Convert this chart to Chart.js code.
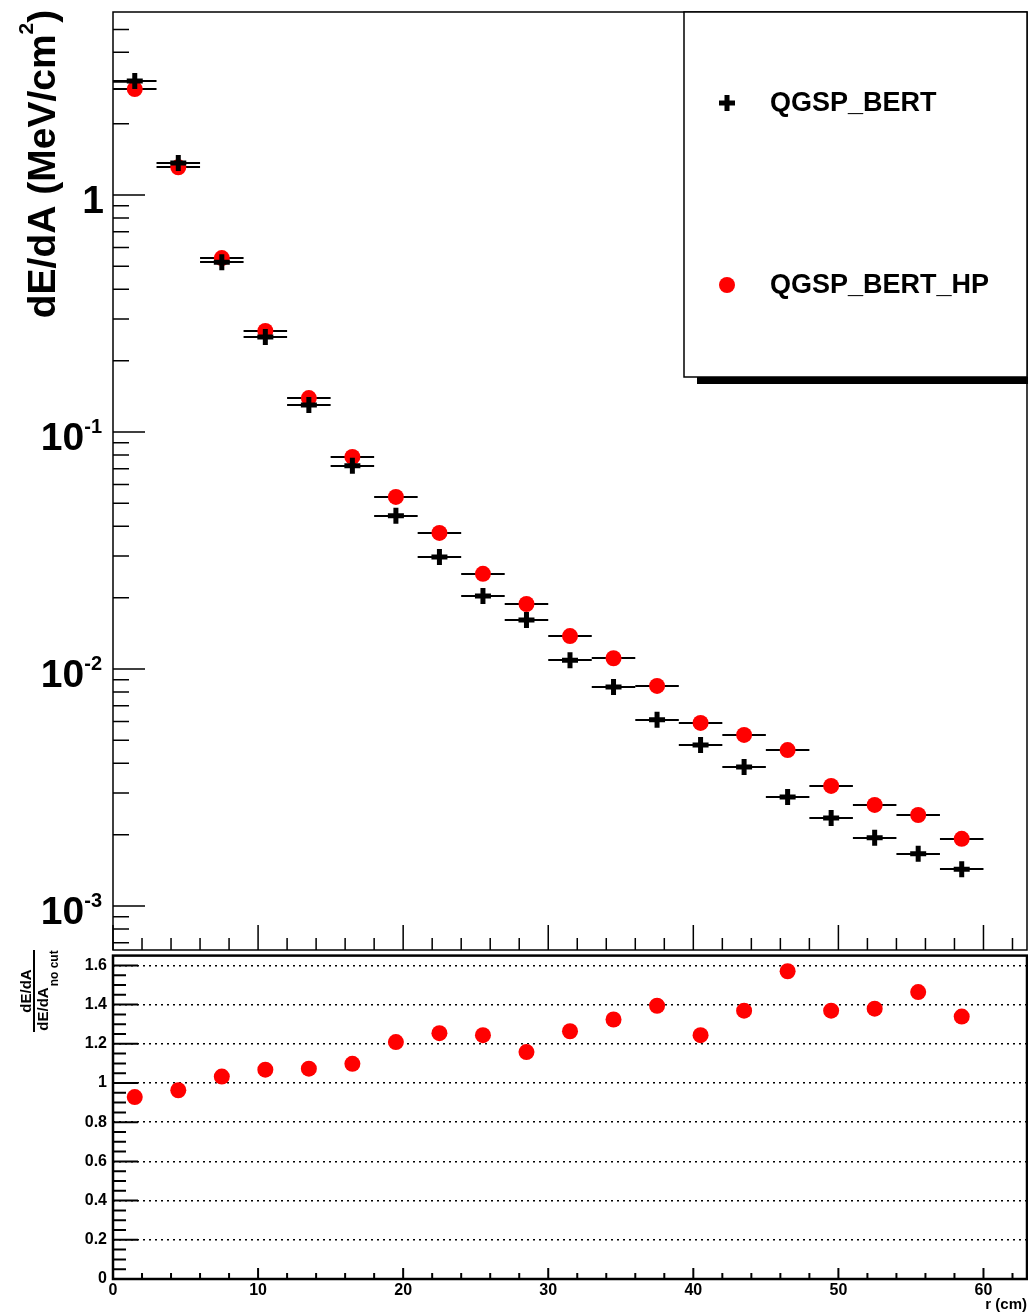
<!DOCTYPE html>
<html>
<head>
<meta charset="utf-8">
<script src="https://cdn.jsdelivr.net/npm/chart.js@4.4.0/dist/chart.umd.min.js"></script>
<style>
  html, body { margin: 0; padding: 0; background: #fff; overflow: hidden; }
  #wrap { position: relative; width: 1028px; height: 1314px; }
  #wrap canvas { position: absolute; left: 0; }
  #top { top: 0; }
  #ratio { top: 940px; }
</style>
</head>
<body>
<div id="wrap">
  <canvas id="top" width="1028" height="960"></canvas>
  <canvas id="ratio" width="1028" height="374"></canvas>
</div>
<script>
// bin centres in r (cm), bins are 3 cm wide
const rCentres = [1.5, 4.5, 7.5, 10.5, 13.5, 16.5, 19.5, 22.5, 25.5, 28.5,
                  31.5, 34.5, 37.5, 40.5, 43.5, 46.5, 49.5, 52.5, 55.5, 58.5]
const rHalfWidth = 1.5

// dE/dA (MeV/cm2)
const qgspBert = [3.03, 1.365, 0.521, 0.252, 0.130, 0.072, 0.0443, 0.0297, 0.0203, 0.0161,
                  0.0109, 0.0084, 0.0061, 0.00478, 0.00386, 0.00288, 0.00235, 0.00194, 0.00166, 0.00143]
const qgspBertHP = [2.80, 1.31, 0.542, 0.267, 0.139, 0.0785, 0.0532, 0.0375, 0.0252, 0.0188,
                    0.01377, 0.0111, 0.00848, 0.00592, 0.00527, 0.00455, 0.00321, 0.00267, 0.00242, 0.00192]

// lower panel ratio
const ratioHP = [0.928, 0.963, 1.033, 1.068, 1.073, 1.098, 1.209, 1.254, 1.244, 1.158,
                 1.264, 1.324, 1.394, 1.244, 1.369, 1.570, 1.369, 1.379, 1.464, 1.339]

const decadeTicks = [1, 1e-1, 1e-2, 1e-3]
const ratioTicks = [0, 0.2, 0.4, 0.6, 0.8, 1, 1.2, 1.4, 1.6]
const rTicks = [0, 10, 20, 30, 40, 50, 60]

const FONT = '"Liberation Sans", Arial, Helvetica, sans-serif'
Chart.defaults.font.family = FONT
Chart.defaults.color = '#000'

const toPoints = (xs, ys) => xs.map((x, i) => ({ x: x, y: ys[i] }))

// minor tick helpers
const linMinors = (lo, hi, step, majorStep) => {
  const out = []
  for (let i = 0; lo + i * step <= hi + 1e-9; i++) {
    const v = lo + i * step
    const q = v / majorStep
    if (Math.abs(q - Math.round(q)) > 1e-6) out.push(v)
  }
  return out
}
const logMinors = (lo, hi) => {
  const out = []
  for (let e = -5; e <= 1; e++) {
    for (let k = 2; k <= 9; k++) {
      const v = k * Math.pow(10, e)
      if (v > lo && v < hi) out.push(v)
    }
  }
  return out
}

function drawTicks(ctx, scale, values, len, side, area) {
  ctx.beginPath()
  values.forEach(v => {
    const p = scale.getPixelForValue(v)
    if (side === 'left') {
      ctx.moveTo(area.left, p)
      ctx.lineTo(area.left + len, p)
    } else {
      ctx.moveTo(p, area.bottom)
      ctx.lineTo(p, area.bottom - len)
    }
  })
  ctx.stroke()
}

const errorBars = {
  id: 'errorBars',
  beforeDatasetsDraw(chart) {
    const { ctx, chartArea: a, scales: { x, y } } = chart
    ctx.save()
    ctx.beginPath()
    ctx.rect(a.left, a.top, a.width, a.height)
    ctx.clip()
    ctx.strokeStyle = '#000'
    ctx.lineWidth = 2
    chart.data.datasets.forEach(ds => {
      if (!ds.xHalfWidth) return
      ds.data.forEach(p => {
        const py = Math.round(y.getPixelForValue(p.y))
        ctx.beginPath()
        ctx.moveTo(x.getPixelForValue(p.x - ds.xHalfWidth), py)
        ctx.lineTo(x.getPixelForValue(p.x + ds.xHalfWidth), py)
        ctx.stroke()
      })
    })
    ctx.restore()
  }
}

const topDecor = {
  id: 'topDecor',
  afterDraw(chart) {
    const { ctx, chartArea: a, scales: { x, y } } = chart
    ctx.save()
    ctx.strokeStyle = '#000'
    ctx.fillStyle = '#000'

    // frame
    ctx.lineWidth = 1.5
    ctx.strokeRect(a.left, a.top, a.right - a.left, a.bottom - a.top)

    // ticks inside
    ctx.lineWidth = 1.5
    drawTicks(ctx, y, decadeTicks, 32, 'left', a)
    drawTicks(ctx, y, logMinors(y.min, y.max), 16, 'left', a)
    drawTicks(ctx, x, rTicks, 25, 'bottom', a)
    drawTicks(ctx, x, linMinors(0, x.max, 2, 10), 12, 'bottom', a)

    // decade labels 1, 10^-1 ...
    ctx.textBaseline = 'alphabetic'
    ctx.textAlign = 'right'
    decadeTicks.forEach(v => {
      const py = y.getPixelForValue(v)
      const e = Math.round(Math.log10(v))
      if (e === 0) {
        ctx.font = 'bold 39px ' + FONT
        ctx.fillText('1', a.left - 9, py + 18)
      } else {
        const sup = String(e)
        ctx.font = 'bold 20px ' + FONT
        const w = ctx.measureText(sup).width
        ctx.fillText(sup, a.left - 11, py + 1)
        ctx.font = 'bold 39px ' + FONT
        ctx.fillText('10', a.left - 11 - w, py + 18)
      }
    })

    // y title
    const p1 = 'dE/dA (MeV/cm', p2 = '2', p3 = ')'
    ctx.font = 'bold 39px ' + FONT
    const w1 = ctx.measureText(p1).width, w3 = ctx.measureText(p3).width
    ctx.font = 'bold 21px ' + FONT
    const w2 = ctx.measureText(p2).width
    const L = w1 + w2 + w3
    ctx.translate(55, 164 + L / 2)
    ctx.rotate(-Math.PI / 2)
    ctx.textAlign = 'left'
    ctx.font = 'bold 39px ' + FONT
    ctx.fillText(p1, 0, 0)
    ctx.fillText(p3, w1 + w2, 0)
    ctx.font = 'bold 21px ' + FONT
    ctx.fillText(p2, w1, -22)
    ctx.restore()

    // legend
    ctx.save()
    ctx.fillStyle = '#000'
    ctx.fillRect(697, 377, 331, 7)
    ctx.fillStyle = '#fff'
    ctx.fillRect(684, 12, 343, 365)
    ctx.strokeStyle = '#000'
    ctx.lineWidth = 1.5
    ctx.strokeRect(684, 12, 343, 365)
    const rows = [103, 285]
    chart.data.datasets.forEach((ds, i) => {
      ctx.fillStyle = ds.backgroundColor
      ctx.strokeStyle = ds.borderColor
      ctx.lineWidth = ds.borderWidth
      Chart.helpers.drawPoint(ctx, {
        pointStyle: ds.pointStyle, radius: ds.pointRadius,
        borderWidth: ds.borderWidth, rotation: 0
      }, 727, rows[i])
      ctx.fillStyle = '#000'
      ctx.font = 'bold 27px ' + FONT
      ctx.textAlign = 'left'
      ctx.textBaseline = 'middle'
      ctx.fillText(ds.label, 770, rows[i] + 1)
    })
    ctx.restore()
  }
}

const ratioDecor = {
  id: 'ratioDecor',
  afterDraw(chart) {
    const { ctx, chartArea: a, scales: { x, y } } = chart
    ctx.save()
    ctx.strokeStyle = '#000'
    ctx.fillStyle = '#000'
    ctx.lineWidth = 2.5
    ctx.strokeRect(a.left, a.top, a.right - a.left, a.bottom - a.top)

    ctx.lineWidth = 2
    drawTicks(ctx, y, ratioTicks, 25, 'left', a)
    drawTicks(ctx, y, linMinors(0, 1.64, 0.05, 0.2), 13, 'left', a)
    drawTicks(ctx, x, rTicks, 11, 'bottom', a)
    drawTicks(ctx, x, linMinors(0, x.max, 2, 10), 6, 'bottom', a)

    // fraction title  dE/dA / dE/dA_no cut
    const cy = 991 - 940
    ctx.lineWidth = 2
    ctx.beginPath()
    ctx.moveTo(34, cy - 41)
    ctx.lineTo(34, cy + 41)
    ctx.stroke()

    ctx.font = 'bold 15px ' + FONT
    const wn = ctx.measureText('dE/dA').width
    ctx.font = 'bold 12px ' + FONT
    const ws = ctx.measureText('no cut').width

    ctx.save()
    ctx.translate(31, cy + wn / 2)
    ctx.rotate(-Math.PI / 2)
    ctx.textAlign = 'left'
    ctx.textBaseline = 'alphabetic'
    ctx.font = 'bold 15px ' + FONT
    ctx.fillText('dE/dA', 0, 0)
    ctx.restore()

    ctx.save()
    ctx.translate(48, cy + (wn + ws) / 2)
    ctx.rotate(-Math.PI / 2)
    ctx.textAlign = 'left'
    ctx.font = 'bold 15px ' + FONT
    ctx.fillText('dE/dA', 0, 0)
    ctx.font = 'bold 12px ' + FONT
    ctx.fillText('no cut', wn + 1, 10)
    ctx.restore()

    ctx.restore()
  }
}

new Chart(document.getElementById('top'), {
  type: 'scatter',
  data: {
    datasets: [{
      label: 'QGSP_BERT',
      data: toPoints(rCentres, qgspBert),
      xHalfWidth: rHalfWidth,
      pointStyle: 'cross',
      pointRadius: 8,
      borderWidth: 5,
      borderColor: '#000',
      backgroundColor: '#000'
    }, {
      label: 'QGSP_BERT_HP',
      data: toPoints(rCentres, qgspBertHP),
      xHalfWidth: rHalfWidth,
      pointStyle: 'circle',
      pointRadius: 8,
      borderWidth: 0,
      borderColor: '#ff0000',
      backgroundColor: '#ff0000'
    }]
  },
  options: {
    responsive: false,
    animation: false,
    events: [],
    layout: { autoPadding: false, padding: { left: 113, top: 12, right: 1, bottom: 10 } },
    scales: {
      x: { type: 'linear', min: 0, max: 63, display: false },
      y: { type: 'logarithmic', min: 6.52e-4, max: 5.92, display: false }
    },
    plugins: { legend: { display: false }, tooltip: { enabled: false } }
  },
  plugins: [errorBars, topDecor]
})

new Chart(document.getElementById('ratio'), {
  type: 'scatter',
  data: {
    datasets: [{
      label: 'QGSP_BERT_HP',
      data: toPoints(rCentres, ratioHP),
      pointStyle: 'circle',
      pointRadius: 8,
      borderWidth: 0,
      borderColor: '#ff0000',
      backgroundColor: '#ff0000'
    }]
  },
  options: {
    responsive: false,
    animation: false,
    events: [],
    layout: { autoPadding: false, padding: { left: 0, top: 10, right: 1, bottom: 0 } },
    scales: {
      x: {
        type: 'linear', min: 0, max: 63,
        afterFit: s => { s.height = 35 },
        afterBuildTicks: s => { s.ticks = rTicks.map(v => ({ value: v })) },
        grid: { display: false, drawTicks: false },
        border: { display: false },
        ticks: { font: { size: 16, weight: 'bold' }, padding: 2, maxRotation: 0, autoSkip: false },
        title: { display: true, text: 'r (cm)', align: 'end', font: { size: 15, weight: 'bold' }, padding: { top: 0, bottom: 0 } }
      },
      y: {
        type: 'linear', min: 0, max: 1.65,
        afterFit: s => { s.width = 113 },
        afterBuildTicks: s => { s.ticks = ratioTicks.map(v => ({ value: v })) },
        grid: { color: '#000', lineWidth: 1.5, drawTicks: false },
        border: { display: false, dash: [2, 4] },
        ticks: { font: { size: 16, weight: 'bold' }, padding: 6, callback: v => String(+v.toFixed(1)) }
      }
    },
    plugins: { legend: { display: false }, tooltip: { enabled: false } }
  },
  plugins: [ratioDecor]
})
</script>
</body>
</html>
